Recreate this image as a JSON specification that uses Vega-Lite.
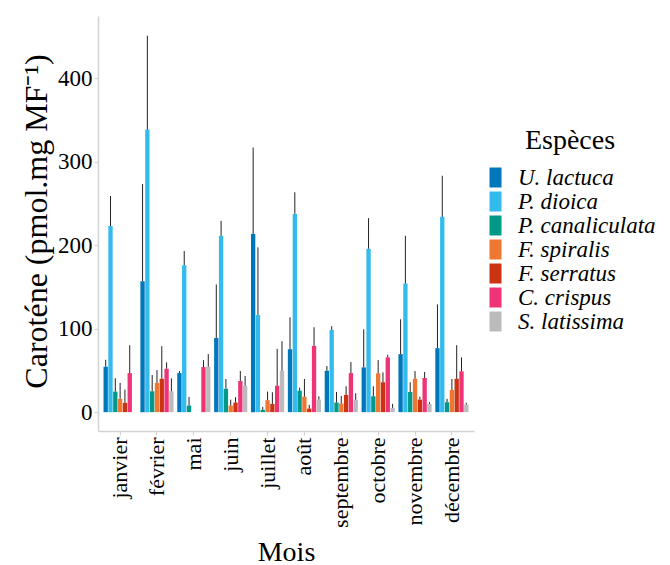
{
  "$schema": "https://vega.github.io/schema/vega-lite/v6.json",
  "autosize": {"type": "none"},
  "padding": {"left": 98, "top": 16, "right": 196, "bottom": 134},
  "width": 376,
  "height": 415,
  "background": "white",
  "config": {
    "view": {"stroke": null},
    "font": "Liberation Serif"
  },
  "data": {
    "values": [
      {"mois": "janvier", "espece": "U. lactuca", "valeur": 54.4, "haut": 62.7},
      {"mois": "janvier", "espece": "P. dioica", "valeur": 223, "haut": 259},
      {"mois": "janvier", "espece": "P. canaliculata", "valeur": 24.6, "haut": 40.5},
      {"mois": "janvier", "espece": "F. spiralis", "valeur": 15.9, "haut": 35},
      {"mois": "janvier", "espece": "F. serratus", "valeur": 11.1, "haut": 27},
      {"mois": "janvier", "espece": "C. crispus", "valeur": 46.8, "haut": 80.2},
      {"mois": "février", "espece": "U. lactuca", "valeur": 156.9, "haut": 273.3},
      {"mois": "février", "espece": "P. dioica", "valeur": 338.5, "haut": 451},
      {"mois": "février", "espece": "P. canaliculata", "valeur": 25, "haut": 44.5},
      {"mois": "février", "espece": "F. spiralis", "valeur": 35, "haut": 50.4},
      {"mois": "février", "espece": "F. serratus", "valeur": 40, "haut": 79},
      {"mois": "février", "espece": "C. crispus", "valeur": 52, "haut": 59.6},
      {"mois": "février", "espece": "S. latissima", "valeur": 25, "haut": 40.5},
      {"mois": "mai", "espece": "U. lactuca", "valeur": 46.8, "haut": 49.2},
      {"mois": "mai", "espece": "P. dioica", "valeur": 176, "haut": 193},
      {"mois": "mai", "espece": "P. canaliculata", "valeur": 7.9, "haut": 18.2},
      {"mois": "mai", "espece": "C. crispus", "valeur": 54, "haut": 62.3},
      {"mois": "mai", "espece": "S. latissima", "valeur": 54.4, "haut": 69.5},
      {"mois": "juin", "espece": "U. lactuca", "valeur": 88.9, "haut": 152.9},
      {"mois": "juin", "espece": "P. dioica", "valeur": 211.3, "haut": 229.2},
      {"mois": "juin", "espece": "P. canaliculata", "valeur": 28.1, "haut": 39.7},
      {"mois": "juin", "espece": "F. spiralis", "valeur": 7.9, "haut": 15},
      {"mois": "juin", "espece": "F. serratus", "valeur": 11.5, "haut": 17.9},
      {"mois": "juin", "espece": "C. crispus", "valeur": 37.3, "haut": 49.2},
      {"mois": "juin", "espece": "S. latissima", "valeur": 31.7, "haut": 43.3},
      {"mois": "juillet", "espece": "U. lactuca", "valeur": 213.3, "haut": 317},
      {"mois": "juillet", "espece": "P. dioica", "valeur": 116.3, "haut": 197.4},
      {"mois": "juillet", "espece": "P. canaliculata", "valeur": 2.7, "haut": 6.3},
      {"mois": "juillet", "espece": "F. spiralis", "valeur": 14.3, "haut": 24.6},
      {"mois": "juillet", "espece": "F. serratus", "valeur": 9.9, "haut": 23.8},
      {"mois": "juillet", "espece": "C. crispus", "valeur": 31.7, "haut": 75.8},
      {"mois": "juillet", "espece": "S. latissima", "valeur": 49.6, "haut": 85},
      {"mois": "août", "espece": "U. lactuca", "valeur": 75.4, "haut": 113.6},
      {"mois": "août", "espece": "P. dioica", "valeur": 237.5, "haut": 263.4},
      {"mois": "août", "espece": "P. canaliculata", "valeur": 25.8, "haut": 29.3},
      {"mois": "août", "espece": "F. spiralis", "valeur": 18.6, "haut": 39.7},
      {"mois": "août", "espece": "F. serratus", "valeur": 4.3, "haut": 8.7},
      {"mois": "août", "espece": "C. crispus", "valeur": 79.4, "haut": 101.7},
      {"mois": "août", "espece": "S. latissima", "valeur": 15, "haut": 19},
      {"mois": "septembre", "espece": "U. lactuca", "valeur": 49.6, "haut": 55.2},
      {"mois": "septembre", "espece": "P. dioica", "valeur": 98.5, "haut": 102.9},
      {"mois": "septembre", "espece": "P. canaliculata", "valeur": 11.5, "haut": 24.2},
      {"mois": "septembre", "espece": "F. spiralis", "valeur": 10.3, "haut": 19.4},
      {"mois": "septembre", "espece": "F. serratus", "valeur": 20.6, "haut": 31},
      {"mois": "septembre", "espece": "C. crispus", "valeur": 46.8, "haut": 60},
      {"mois": "septembre", "espece": "S. latissima", "valeur": 14.7, "haut": 22.6},
      {"mois": "octobre", "espece": "U. lactuca", "valeur": 53.6, "haut": 99.3},
      {"mois": "octobre", "espece": "P. dioica", "valeur": 195.8, "haut": 232.4},
      {"mois": "octobre", "espece": "P. canaliculata", "valeur": 19, "haut": 31},
      {"mois": "octobre", "espece": "F. spiralis", "valeur": 46.5, "haut": 62.3},
      {"mois": "octobre", "espece": "F. serratus", "valeur": 35.8, "haut": 47.7},
      {"mois": "octobre", "espece": "C. crispus", "valeur": 65.6, "haut": 68.7},
      {"mois": "octobre", "espece": "S. latissima", "valeur": 5.1, "haut": 9.9},
      {"mois": "novembre", "espece": "U. lactuca", "valeur": 69.5, "haut": 111.2},
      {"mois": "novembre", "espece": "P. dioica", "valeur": 154.1, "haut": 211.3},
      {"mois": "novembre", "espece": "P. canaliculata", "valeur": 24.2, "haut": 35.8},
      {"mois": "novembre", "espece": "F. spiralis", "valeur": 40, "haut": 49.2},
      {"mois": "novembre", "espece": "F. serratus", "valeur": 15, "haut": 18.6},
      {"mois": "novembre", "espece": "C. crispus", "valeur": 40.9, "haut": 48},
      {"mois": "novembre", "espece": "S. latissima", "valeur": 9.9, "haut": 11.9},
      {"mois": "décembre", "espece": "U. lactuca", "valeur": 76.6, "haut": 129.1},
      {"mois": "décembre", "espece": "P. dioica", "valeur": 234, "haut": 283.2},
      {"mois": "décembre", "espece": "P. canaliculata", "valeur": 11.9, "haut": 15.9},
      {"mois": "décembre", "espece": "F. spiralis", "valeur": 26.6, "haut": 39.7},
      {"mois": "décembre", "espece": "F. serratus", "valeur": 40, "haut": 80.2},
      {"mois": "décembre", "espece": "C. crispus", "valeur": 48.9, "haut": 65.6},
      {"mois": "décembre", "espece": "S. latissima", "valeur": 9.1, "haut": 11.1}
    ]
  },
  "encoding": {
    "x": {
      "field": "mois",
      "type": "nominal",
      "sort": ["janvier", "février", "mai", "juin", "juillet", "août", "septembre", "octobre", "novembre", "décembre"],
      "scale": {"paddingInner": 0.1, "paddingOuter": 0.15},
      "axis": {
        "title": "Mois",
        "titleFontSize": 28,
        "titleFontWeight": "normal",
        "titleColor": "black",
        "titleY": 129,
        "titleBaseline": "alphabetic",
        "labelAngle": -90,
        "labelAlign": "right",
        "labelBaseline": "middle",
        "labelFontSize": 22,
        "labelColor": "black",
        "labelPadding": 2,
        "domainColor": "#d3d3d3",
        "domainWidth": 1.5,
        "tickColor": "#d3d3d3",
        "tickWidth": 1.2,
        "tickSize": 4,
        "grid": false
      }
    },
    "xOffset": {
      "field": "espece",
      "type": "nominal",
      "scale": {
        "domain": ["U. lactuca", "P. dioica", "P. canaliculata", "F. spiralis", "F. serratus", "C. crispus", "S. latissima"],
        "paddingInner": 0.1
      }
    }
  },
  "layer": [
    {
      "mark": {"type": "bar"},
      "encoding": {
        "y": {
          "field": "valeur",
          "type": "quantitative",
          "scale": {"domain": [-22.6, 474.6], "nice": false, "zero": false},
          "axis": {
            "title": "Caroténe (pmol.mg MF⁻¹)",
            "titleFontSize": 32,
            "titleFontWeight": "normal",
            "titleColor": "black",
            "titleX": -62,
            "titleY": 205,
            "titleAngle": -90,
            "titleAlign": "center",
            "titleBaseline": "middle",
            "values": [0, 100, 200, 300, 400],
            "labelFontSize": 23,
            "labelColor": "black",
            "labelPadding": 2,
            "domainColor": "#d3d3d3",
            "domainWidth": 1.5,
            "tickColor": "#d3d3d3",
            "tickWidth": 1.2,
            "tickSize": 4,
            "grid": false
          }
        },
        "y2": {"datum": 0},
        "color": {
          "field": "espece",
          "type": "nominal",
          "scale": {
            "domain": ["U. lactuca", "P. dioica", "P. canaliculata", "F. spiralis", "F. serratus", "C. crispus", "S. latissima"],
            "range": ["#0077BB", "#33BBEE", "#009988", "#EE7733", "#CC3311", "#EE3377", "#BBBBBB"]
          },
          "legend": {
            "title": "Espèces",
            "orient": "none",
            "legendX": 386,
            "legendY": 111,
            "titleFontSize": 28,
            "titleFontWeight": "normal",
            "titleColor": "black",
            "titleAnchor": "middle",
            "titlePadding": 11,
            "labelFontSize": 23,
            "labelFont": "Liberation Serif",
            "labelFontStyle": "italic",
            "labelColor": "black",
            "labelOffset": 11,
            "labelLimit": 200,
            "symbolType": "M-0.6,-1H0.6V1H-0.6Z",
            "symbolSize": 400,
            "symbolStrokeWidth": 0,
            "symbolOpacity": 1,
            "rowPadding": 0
          }
        }
      }
    },
    {
      "mark": {"type": "rule", "color": "#222222", "strokeWidth": 1},
      "encoding": {
        "y": {"field": "valeur", "type": "quantitative"},
        "y2": {"field": "haut"}
      }
    }
  ]
}
